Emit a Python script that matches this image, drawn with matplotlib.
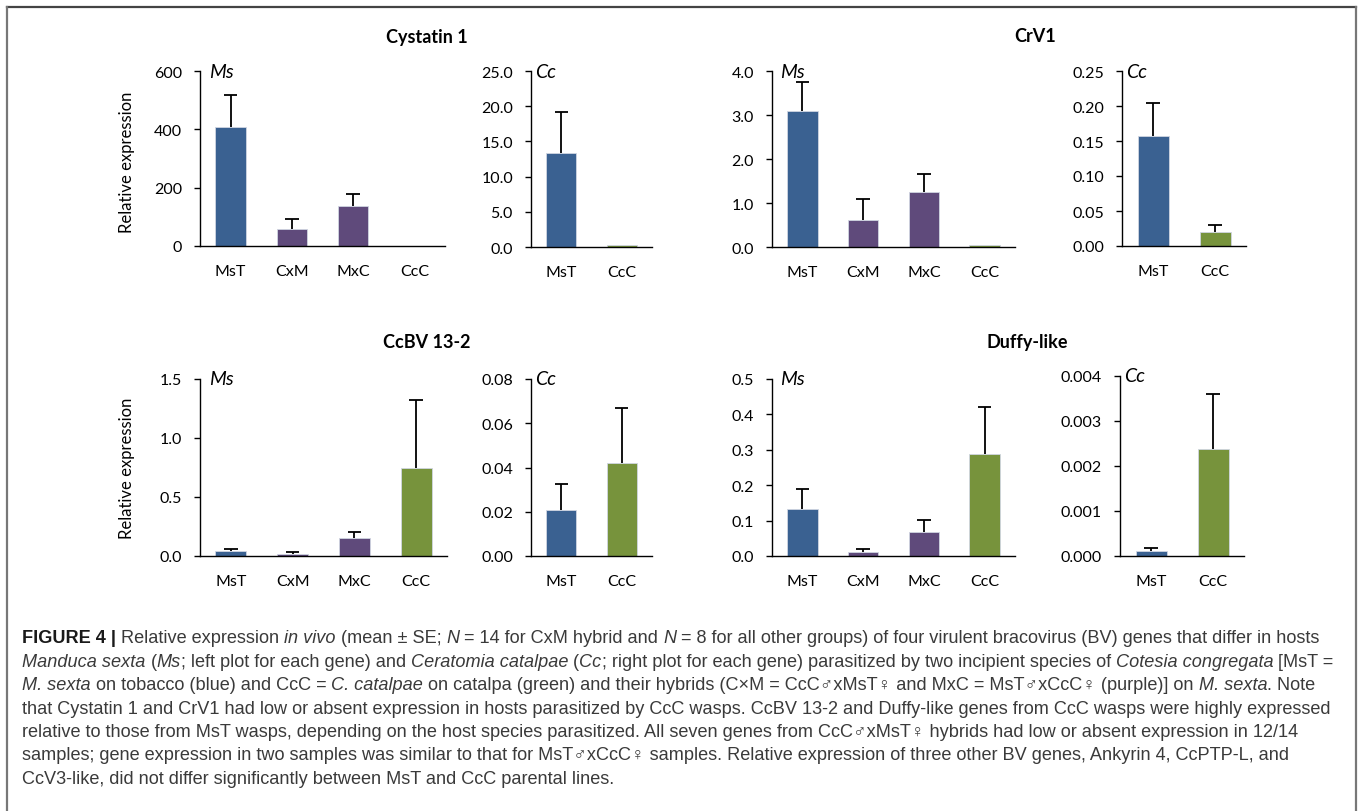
"""
Relative expression of bracovirus genes (Figure 4), bar panels + caption.
"""

import matplotlib
matplotlib.use("Agg")
import matplotlib.pyplot as plt
from matplotlib.lines import Line2D
from matplotlib.font_manager import FontProperties

W, H = 1358, 812

# --- data ---
groups4 = ["MsT", "CxM", "MxC", "CcC"]
groups2 = ["MsT", "CcC"]
colors4 = ["#3a6191", "#5f4a7b", "#5f4a7b", "#77933c"]
colors2 = ["#3a6191", "#77933c"]

cyst_ms = [407, 57, 138, 0]
cyst_ms_se = [111, 35, 40, 0]
cyst_cc = [13.3, 0.25]
cyst_cc_se = [5.9, 0]

crv1_ms = [3.08, 0.62, 1.24, 0.04]
crv1_ms_se = [0.66, 0.46, 0.43, 0]
crv1_cc = [0.157, 0.020]
crv1_cc_se = [0.048, 0.010]

ccbv_ms = [0.043, 0.02, 0.153, 0.746]
ccbv_ms_se = [0.014, 0.017, 0.047, 0.58]
ccbv_cc = [0.021, 0.042]
ccbv_cc_se = [0.0115, 0.025]

duffy_ms = [0.134, 0.01, 0.068, 0.288]
duffy_ms_se = [0.056, 0.01, 0.033, 0.132]
duffy_cc = [0.00011, 0.00237]
duffy_cc_se = [0.00007, 0.00123]

titles = ["Cystatin 1", "CrV1", "CcBV 13-2", "Duffy-like"]

caption = [
    "^FIGURE 4 |^ Relative expression _in vivo_ (mean \u00b1 SE; _N_ = 14 for CxM hybrid and _N_ = 8 for all other groups) of four virulent bracovirus (BV) genes that differ in hosts",
    "_Manduca sexta_ (_Ms_; left plot for each gene) and _Ceratomia catalpae_ (_Cc_; right plot for each gene) parasitized by two incipient species of _Cotesia congregata_ [MsT =",
    "_M. sexta_ on tobacco (blue) and CcC = _C. catalpae_ on catalpa (green) and their hybrids (C\u00d7M = CcC\u2642xMsT\u2640 and MxC = MsT\u2642xCcC\u2640 (purple)] on _M. sexta_. Note",
    "that Cystatin 1 and CrV1 had low or absent expression in hosts parasitized by CcC wasps. CcBV 13-2 and Duffy-like genes from CcC wasps were highly expressed",
    "relative to those from MsT wasps, depending on the host species parasitized. All seven genes from CcC\u2642xMsT\u2640 hybrids had low or absent expression in 12/14",
    "samples; gene expression in two samples was similar to that for MsT\u2642xCcC\u2640 samples. Relative expression of three other BV genes, Ankyrin 4, CcPTP-L, and",
    "CcV3-like, did not differ significantly between MsT and CcC parental lines.",
]

CHART_FONT = "Lato"
plt.rcParams["font.family"] = [CHART_FONT, "DejaVu Sans"]

fig = plt.figure(figsize=(W / 100, H / 100), dpi=100)


def add_ax(x0, y0, x1, y1):
    return fig.add_axes([x0 / W, 1 - y1 / H, (x1 - x0) / W, (y1 - y0) / H])


def bar_panel(box, vals, se, labels, cols, ymax, step, fmt, host):
    ax = add_ax(*box)
    x = list(range(len(vals)))
    ax.bar(x, vals, width=0.5, color=cols, edgecolor="#d0d6e2", linewidth=0.6, zorder=2)
    for xi, v, e in zip(x, vals, se):
        if e > 0:
            ax.vlines(xi, v, v + e, color="black", lw=1.3, zorder=3)
            ax.hlines(v + e, xi - 0.11, xi + 0.11, color="black", lw=1.3, zorder=3)
    ax.set_xlim(-0.5, len(vals) - 0.5)
    ax.set_ylim(0, ymax)
    n = int(round(ymax / step))
    ticks = [i * step for i in range(n + 1)]
    ax.set_yticks(ticks)
    ax.set_yticklabels([fmt % t for t in ticks])
    ax.set_xticks(x)
    ax.set_xticklabels(labels)
    for s in ["top", "right"]:
        ax.spines[s].set_visible(False)
    for s in ["left", "bottom"]:
        ax.spines[s].set_linewidth(1.0)
        ax.spines[s].set_zorder(4)
    ax.tick_params(axis="y", length=4, width=1.0, pad=9, labelsize=11.5, colors="black")
    ax.tick_params(axis="x", length=0, pad=13, labelsize=11.5)
    ax.text(0.035, 1.0, host, transform=ax.transAxes, style="italic",
            fontsize=14, va="center", ha="left")
    return ax


bar_panel((200, 72, 445, 247), cyst_ms, cyst_ms_se, groups4, colors4, 600, 200, "%d", "Ms")
bar_panel((531, 72, 652, 248), cyst_cc, cyst_cc_se, groups2, colors2, 25, 5, "%.1f", "Cc")
bar_panel((772, 72, 1015, 248), crv1_ms, crv1_ms_se, groups4, colors4, 4, 1, "%.1f", "Ms")
bar_panel((1122, 72, 1246, 247), crv1_cc, crv1_cc_se, groups2, colors2, 0.25, 0.05, "%.2f", "Cc")
bar_panel((200, 380, 447, 557), ccbv_ms, ccbv_ms_se, groups4, colors4, 1.5, 0.5, "%.1f", "Ms")
bar_panel((531, 380, 652, 557), ccbv_cc, ccbv_cc_se, groups2, colors2, 0.08, 0.02, "%.2f", "Cc")
bar_panel((772, 380, 1015, 557), duffy_ms, duffy_ms_se, groups4, colors4, 0.5, 0.1, "%.1f", "Ms")
bar_panel((1120, 377, 1244, 557), duffy_cc, duffy_cc_se, groups2, colors2, 0.004, 0.001, "%.3f", "Cc")

# gene titles and y labels
title_pos = [(427, 37), (1035, 37), (427, 343), (1027, 343)]
for t, (px, py) in zip(titles, title_pos):
    fig.text(px / W, 1 - py / H, t, ha="center", va="center", fontsize=13, fontweight="bold")
for py in [162, 468]:
    fig.text(127 / W, 1 - py / H, "Relative expression", rotation=90,
             ha="center", va="center", fontsize=12)

# frame lines
fig.add_artist(Line2D([7 / W, 1356 / W], [1 - 8 / H, 1 - 8 / H], transform=fig.transFigure,
                      color="#444444", lw=1.6))
fig.add_artist(Line2D([7 / W, 7 / W], [0, 1 - 8 / H], transform=fig.transFigure,
                      color="#777777", lw=1.6))
fig.add_artist(Line2D([1356 / W, 1356 / W], [0, 1 - 8 / H], transform=fig.transFigure,
                      color="#777777", lw=1.6))

# --- caption with mixed styles ---
cap_family = ["Liberation Sans", "DejaVu Sans"]
r = fig.canvas.get_renderer()


def make_props(size):
    return {
        "n": FontProperties(family=cap_family, size=size),
        "i": FontProperties(family=cap_family, size=size, style="italic"),
        "b": FontProperties(family=cap_family, size=size, weight="bold"),
    }


def text_w(s, prop):
    t = fig.text(0, 0, s, fontproperties=prop)
    w = t.get_window_extent(renderer=r).width
    t.remove()
    return w


def split_styles(line):
    segs, cur, style = [], "", "n"
    for ch in line:
        if ch in "_^":
            if cur:
                segs.append((cur, style))
            cur = ""
            mark = "i" if ch == "_" else "b"
            style = "n" if style == mark else mark
        else:
            cur += ch
    if cur:
        segs.append((cur, style))
    return segs


def layout_line(line, fp, x, y=None):
    # places the pieces if y is given, returns the end x
    for s, st in split_styles(line):
        prop = fp[st]
        sp = text_w("x x", prop) - text_w("xx", prop)
        lead = len(s) - len(s.lstrip(" "))
        trail = len(s) - len(s.rstrip(" "))
        core = s.strip(" ")
        x += lead * sp
        if core:
            if y is not None:
                fig.text(x / W, y, core, fontproperties=prop, ha="left", va="center",
                         color="#1a1a1a" if st == "b" else "#3a3a3a")
            x += text_w("x" + core + "x", prop) - text_w("xx", prop)
        x += trail * sp
    return x


# size the caption so the longest line fits inside the frame like the original
base = 10.0
x_left, x_right = 22.0, 1340.0
base_fp = make_props(base)
w0 = max(layout_line(line, base_fp, 0.0) for line in caption)
cap_size = base * (x_right - x_left) / w0
fp = make_props(cap_size)

y0, dy = 639, 23.4
for k, line in enumerate(caption):
    layout_line(line, fp, x_left, 1 - (y0 + k * dy) / H)

fig.savefig("out.png", dpi=100)
